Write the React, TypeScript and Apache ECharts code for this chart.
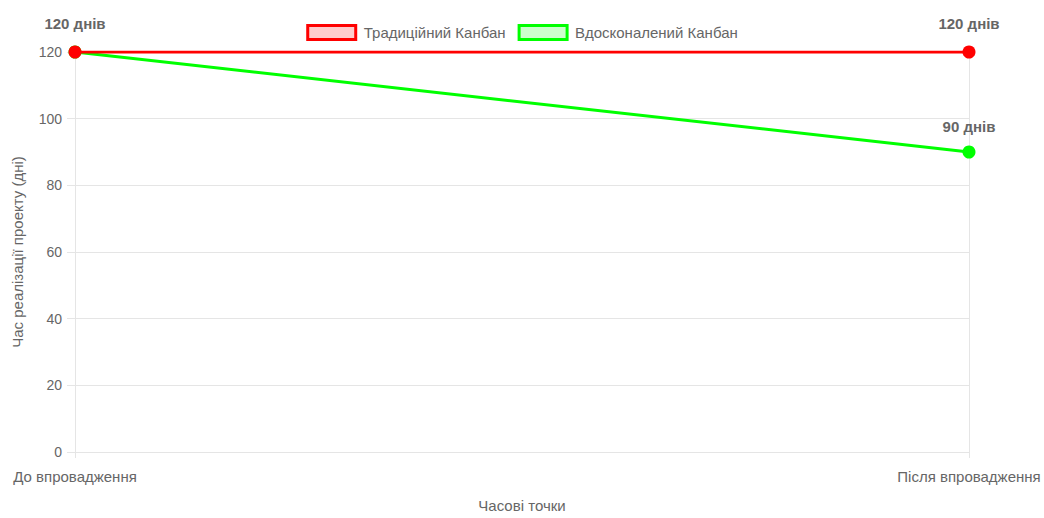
import React, { useEffect, useRef } from "react";
import * as echarts from "echarts";

const categories = ["До впровадження", "Після впровадження"];
const traditional = [120, 120];
const improved = [120, 90];
const yTicks = { min: 0, max: 120, interval: 20 };
const seriesNames = ["Традиційний Канбан", "Вдосконалений Канбан"];
const xTitle = "Часові точки";
const yTitle = "Час реалізації проекту (дні)";
const unit = "днів";

const FONT = "'Liberation Sans', Arial, Helvetica, sans-serif";
const GRID = "#e5e5e5";
const TEXT = "#666";

export default function App() {
  const ref = useRef<HTMLDivElement>(null);
  useEffect(() => {
    const chart = echarts.init(ref.current!, null, { renderer: "svg" });
    const labelFor = (show: boolean[], distance: number) => ({
      show: true,
      position: "top",
      distance,
      fontFamily: FONT,
      fontSize: 15,
      fontWeight: "bold",
      color: TEXT,
      formatter: (p: any) => (show[p.dataIndex] ? `${p.value} ${unit}` : ""),
    });
    chart.setOption({
      animation: false,
      textStyle: { fontFamily: FONT },
      legend: {
        top: 19,
        left: "center",
        itemWidth: 48,
        itemHeight: 14,
        itemGap: 12,
        textStyle: { fontFamily: FONT, fontSize: 15, color: TEXT, padding: [0, 0, 0, 3] },
        data: [
          {
            name: seriesNames[0],
            icon: "rect",
            itemStyle: { color: "rgba(255,0,0,0.2)", borderColor: "#ff0000", borderWidth: 3 },
          },
          {
            name: seriesNames[1],
            icon: "rect",
            itemStyle: { color: "rgba(0,255,0,0.2)", borderColor: "#00ff00", borderWidth: 3 },
          },
        ],
      },
      grid: { left: 75, right: 75, top: 52, bottom: 62, containLabel: false },
      xAxis: {
        type: "category",
        data: categories,
        boundaryGap: false,
        name: xTitle,
        nameLocation: "middle",
        nameGap: 46,
        nameTextStyle: { fontFamily: FONT, fontSize: 15, color: TEXT },
        axisLine: { show: true, lineStyle: { color: GRID, width: 1 } },
        axisTick: { show: true, length: 6, lineStyle: { color: GRID } },
        axisLabel: { fontFamily: FONT, fontSize: 15, color: TEXT, margin: 17 },
        splitLine: { show: true, lineStyle: { color: GRID, width: 1 } },
      },
      yAxis: {
        type: "value",
        min: yTicks.min,
        max: yTicks.max,
        interval: yTicks.interval,
        name: yTitle,
        nameLocation: "middle",
        nameGap: 50,
        nameTextStyle: { fontFamily: FONT, fontSize: 15, color: TEXT },
        axisLine: { show: true, lineStyle: { color: GRID, width: 1 } },
        axisTick: { show: true, length: 8, lineStyle: { color: GRID } },
        axisLabel: { fontFamily: FONT, fontSize: 14, color: TEXT, margin: 13 },
        splitLine: { show: true, lineStyle: { color: GRID, width: 1 } },
      },
      series: [
        {
          name: seriesNames[1],
          type: "line",
          data: improved,
          symbol: "circle",
          symbolSize: 13,
          lineStyle: { color: "#00ff00", width: 3 },
          itemStyle: { color: "#00ff00" },
          label: labelFor([false, true], 12),
          z: 2,
        },
        {
          name: seriesNames[0],
          type: "line",
          data: traditional,
          symbol: "circle",
          symbolSize: 13,
          lineStyle: { color: "#ff0000", width: 3 },
          itemStyle: { color: "#ff0000" },
          label: labelFor([true, true], 15),
          z: 3,
        },
      ],
    });
    return () => chart.dispose();
  }, []);
  return <div ref={ref} style={{ width: 1044, height: 518, position: "absolute", left: 0, top: 0 }} />;
}
